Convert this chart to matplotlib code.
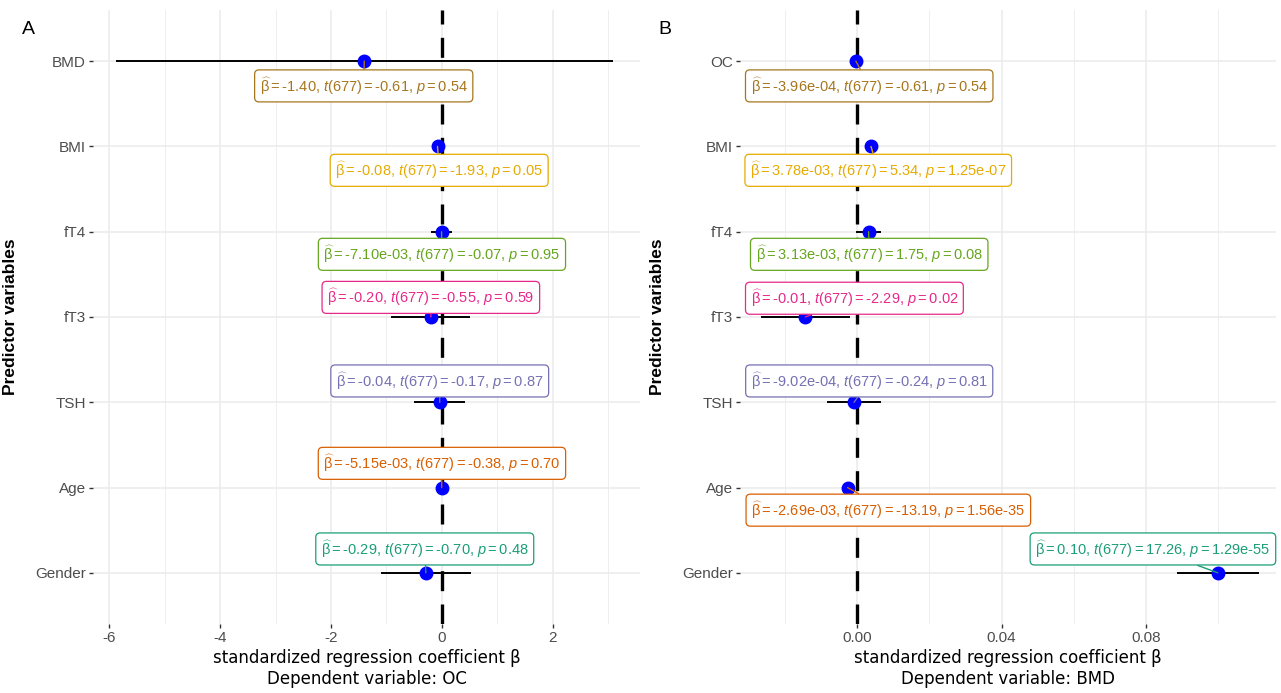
import matplotlib.pyplot as plt
from matplotlib.ticker import FixedLocator

plt.rcParams['font.family'] = ['Liberation Sans', 'DejaVu Sans']
plt.rcParams['mathtext.fontset'] = 'custom'
plt.rcParams['mathtext.rm'] = 'Liberation Sans'
plt.rcParams['mathtext.it'] = 'Liberation Sans:italic'

predictors_a = ["Gender", "Age", "TSH", "fT3", "fT4", "BMI", "BMD"]
predictors_b = ["Gender", "Age", "TSH", "fT3", "fT4", "BMI", "OC"]
colors = ["#1B9E77", "#D95F02", "#7570B3", "#E7298A", "#66A61E", "#E6AB02", "#A6761D"]

# Panel A: dependent variable OC
est_a = [-0.29, -0.00515, -0.04, -0.20, -0.0071, -0.08, -1.40]
lo_a = [-1.10, -0.032, -0.50, -0.91, -0.20, -0.16, -5.88]
hi_a = [0.52, 0.022, 0.42, 0.51, 0.19, 0.00, 3.08]
txt_a = [("-0.29", "-0.70", "0.48"), ("-5.15e-03", "-0.38", "0.70"),
         ("-0.04", "-0.17", "0.87"), ("-0.20", "-0.55", "0.59"),
         ("-7.10e-03", "-0.07", "0.95"), ("-0.08", "-1.93", "0.05"),
         ("-1.40", "-0.61", "0.54")]

# Panel B: dependent variable BMD
est_b = [0.0999, -0.00269, -0.000902, -0.0144, 0.00313, 0.00378, -0.000396]
lo_b = [0.0886, -0.0031, -0.0083, -0.0267, -0.0004, 0.0024, -0.00167]
hi_b = [0.1113, -0.0023, 0.0065, -0.0021, 0.0066, 0.0052, 0.00088]
txt_b = [("0.10", "17.26", "1.29e-55"), ("-2.69e-03", "-13.19", "1.56e-35"),
         ("-9.02e-04", "-0.24", "0.81"), ("-0.01", "-2.29", "0.02"),
         ("3.13e-03", "1.75", "0.08"), ("3.78e-03", "5.34", "1.25e-07"),
         ("-3.96e-04", "-0.61", "0.54")]

# repelled label placement
lab_a = [(-0.31, 0.28), (0.0, 1.284), (-0.04, 2.25), (-0.2, 3.23),
         (0.0, 3.735), (-0.05, 4.72), (-1.41, 5.71)]
lab_b = [(0.0819, 0.28), (0.0086, 0.735), (0.0033, 2.25), (-0.0008, 3.22),
         (0.0033, 3.735), (0.0058, 4.72), (0.0033, 5.71)]

W, H = 1281, 693
fig = plt.figure(figsize=(W / 100, H / 100), dpi=100)


def panel(rect, preds, est, lo, hi, txt, labs, xlim, major, minor, fmt, dep, letter, lx, yx):
    l, r, t, b = rect
    ax = fig.add_axes([l / W, 1 - b / H, (r - l) / W, (b - t) / H])
    y = list(range(len(preds)))
    ax.set_xlim(*xlim)
    ax.set_ylim(-0.6, len(preds) - 0.4)
    ax.xaxis.set_major_locator(FixedLocator(major))
    ax.xaxis.set_minor_locator(FixedLocator(minor))
    ax.set_xticklabels([fmt(v) for v in major])
    ax.set_yticks(y)
    ax.set_yticklabels(preds)
    ax.grid(True, which='major', color='#EBEBEB', lw=1.1)
    ax.grid(True, which='minor', axis='x', color='#EBEBEB', lw=0.6)
    ax.set_axisbelow(True)
    for s in ax.spines.values():
        s.set_visible(False)
    ax.tick_params(which='major', length=3, width=1, color='#333333', labelcolor='#4D4D4D',
                   labelsize=11, pad=2)
    ax.tick_params(which='minor', length=0)
    ax.axvline(0, color='black', lw=2.4, ls=(0, (6, 4)), zorder=1)
    ax.hlines(y, lo, hi, color='black', lw=1.4, zorder=2)
    ax.plot(est, y, 'o', color='blue', ms=9, zorder=3)
    for i in y:
        b_, tv, pv = txt[i]
        s = (r"$\widehat{\mathrm{\beta}} = \text{" + b_ + r", }\mathit{t}(677) = \text{" + tv +
             r", }\mathit{p} = \text{" + pv + "}$")
        ax.annotate(s, xy=(est[i], i), xytext=labs[i], ha='center', va='center',
                    fontsize=10.5, color=colors[i], zorder=4,
                    bbox=dict(boxstyle='round,pad=0.35,rounding_size=0.3', fc='white',
                              ec=colors[i], lw=0.9),
                    arrowprops=dict(arrowstyle='-', color=colors[i], lw=1, shrinkA=0, shrinkB=0))
    ax.set_xlabel("standardized regression coefficient β\nDependent variable: " + dep,
                  fontsize=12, family='DejaVu Sans', labelpad=3, linespacing=1.2)
    ax.set_ylabel("Predictor variables", fontsize=12.5, fontweight='bold')
    ax.yaxis.set_label_coords((yx - l) / (r - l), 0.5)
    fig.text(lx / W, 1 - 30 / H, letter, fontsize=14, ha='center', va='center')
    return ax


panel((93, 640, 10, 624), predictors_a, est_a, lo_a, hi_a, txt_a, lab_a,
      (-6.29, 3.57), [-6, -4, -2, 0, 2], [-5, -3, -1, 1, 3],
      lambda v: "%d" % v, "OC", "A", 28, 18)
panel((740, 1276, 10, 624), predictors_b, est_b, lo_b, hi_b, txt_b, lab_b,
      (-0.0325, 0.116), [0.0, 0.04, 0.08], [-0.02, 0.02, 0.06, 0.10],
      lambda v: "%.2f" % v, "BMD", "B", 665, 665)

fig.savefig("out.png", dpi=100)
